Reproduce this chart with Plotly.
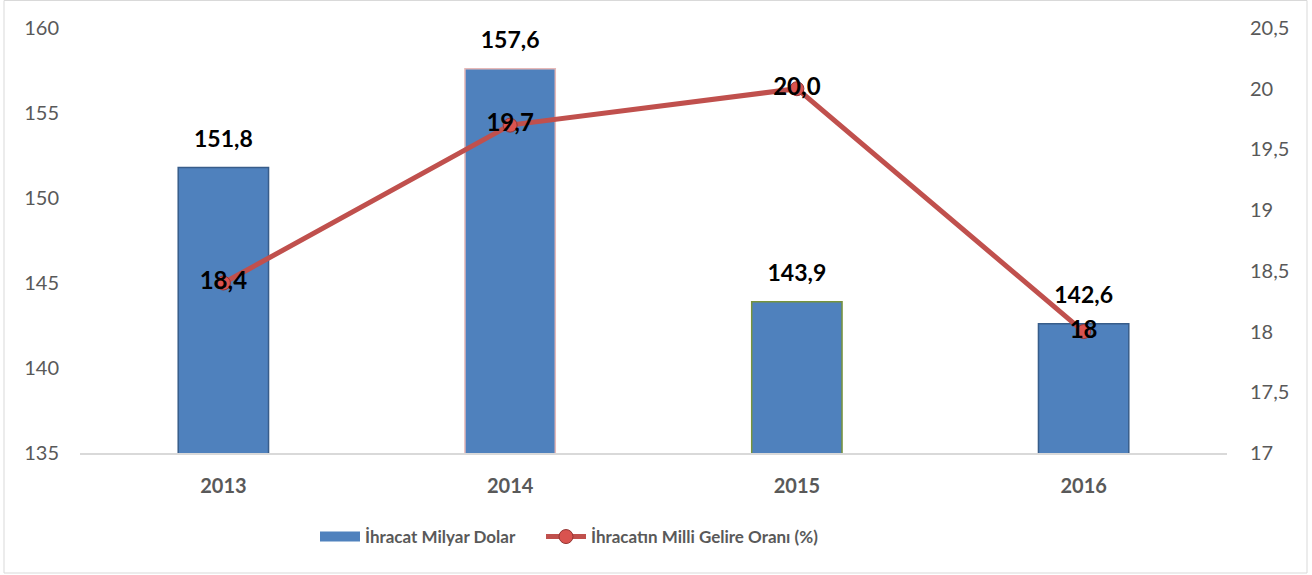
import plotly.graph_objects as go

years = ["2013", "2014", "2015", "2016"]
exports = [151.8, 157.6, 143.9, 142.6]
export_labels = ["151,8", "157,6", "143,9", "142,6"]
ratio = [18.4, 19.7, 20.0, 18.0]
ratio_labels = ["18,4", "19,7", "20,0", "18"]
bar_outline = ["#385D8A", "#E6B9B8", "#77933C", "#385D8A"]

left_ticks = [135, 140, 145, 150, 155, 160]
right_ticks = [17, 17.5, 18, 18.5, 19, 19.5, 20, 20.5]
right_ticktext = ["17", "17,5", "18", "18,5", "19", "19,5", "20", "20,5"]

FONT = "Lato"
GRAY = "#595959"
BAR_BLUE = "#4F81BD"

fig = go.Figure()
fig.add_trace(go.Bar(
    x=years, y=exports, name="İhracat Milyar Dolar",
    width=0.315, showlegend=False, legendgroup="bar",
    marker=dict(color=BAR_BLUE, line=dict(color=bar_outline, width=1.5)),
    yaxis="y", hoverinfo="skip",
))
# bar value labels
fig.add_trace(go.Scatter(
    x=years, y=exports, mode="markers+text", text=export_labels,
    textposition="top center", showlegend=False,
    marker=dict(size=22, opacity=0),
    textfont=dict(family=FONT, size=23, color="#000000", weight="bold"),
    yaxis="y", hoverinfo="skip",
))
# legend entry for bars (wide rectangle look)
fig.add_trace(go.Scatter(
    x=[None], y=[None], mode="lines", name="İhracat Milyar Dolar",
    legendgroup="bar", legend="legend",
    line=dict(color=BAR_BLUE, width=10), yaxis="y",
))
fig.add_trace(go.Scatter(
    x=years, y=ratio, name="İhracatın Milli Gelire Oranı (%)", legend="legend2",
    mode="lines+markers+text", text=ratio_labels, textposition="middle center",
    textfont=dict(family=FONT, size=24, color="#000000", weight="bold"),
    line=dict(color="#C0504D", width=5),
    marker=dict(size=14, color="#D9534F", line=dict(color="#943634", width=1)),
    yaxis="y2", hoverinfo="skip",
))

# outer frame
fig.add_shape(type="rect", xref="paper", yref="paper",
              x0=(4 - 80) / 1147, x1=(1307 - 80) / 1147,
              y0=(453 - 573) / 425, y1=(453 - 0.5) / 425,
              line=dict(color="#D9D9D9", width=1), layer="below")

legend_common = dict(orientation="h", xanchor="left",
                     y=(453 - 537) / 425, yanchor="middle",
                     font=dict(family=FONT, size=17, color=GRAY, weight="bold"),
                     itemwidth=40, bgcolor="rgba(0,0,0,0)")

fig.update_layout(
    width=1312, height=575,
    margin=dict(l=80, r=85, t=28, b=122),
    plot_bgcolor="white", paper_bgcolor="white",
    font=dict(family=FONT, color=GRAY),
    showlegend=True,
    legend=dict(x=(315 - 80) / 1147, **legend_common),
    legend2=dict(x=(541 - 80) / 1147, **legend_common),
    xaxis=dict(type="category", range=[-0.5, 3.5], showline=True,
               linecolor="#D9D9D9", linewidth=2, ticks="", showgrid=False,
               tickfont=dict(family=FONT, size=20, color=GRAY, weight="bold"),
               ticklabelstandoff=14),
    yaxis=dict(range=[135, 160], tickvals=left_ticks, showgrid=False,
               zeroline=False, ticks="", tickfont=dict(family=FONT, size=20, color=GRAY),
               ticklabelstandoff=20),
    yaxis2=dict(range=[17, 20.5], tickvals=right_ticks, ticktext=right_ticktext,
                overlaying="y", side="right", showgrid=False, zeroline=False,
                ticks="", tickfont=dict(family=FONT, size=20, color=GRAY),
                ticklabelstandoff=22),
    bargap=0.685,
)

fig.write_html("out.html", config={"displayModeBar": False},
               post_script="document.body.style.margin='0';")
